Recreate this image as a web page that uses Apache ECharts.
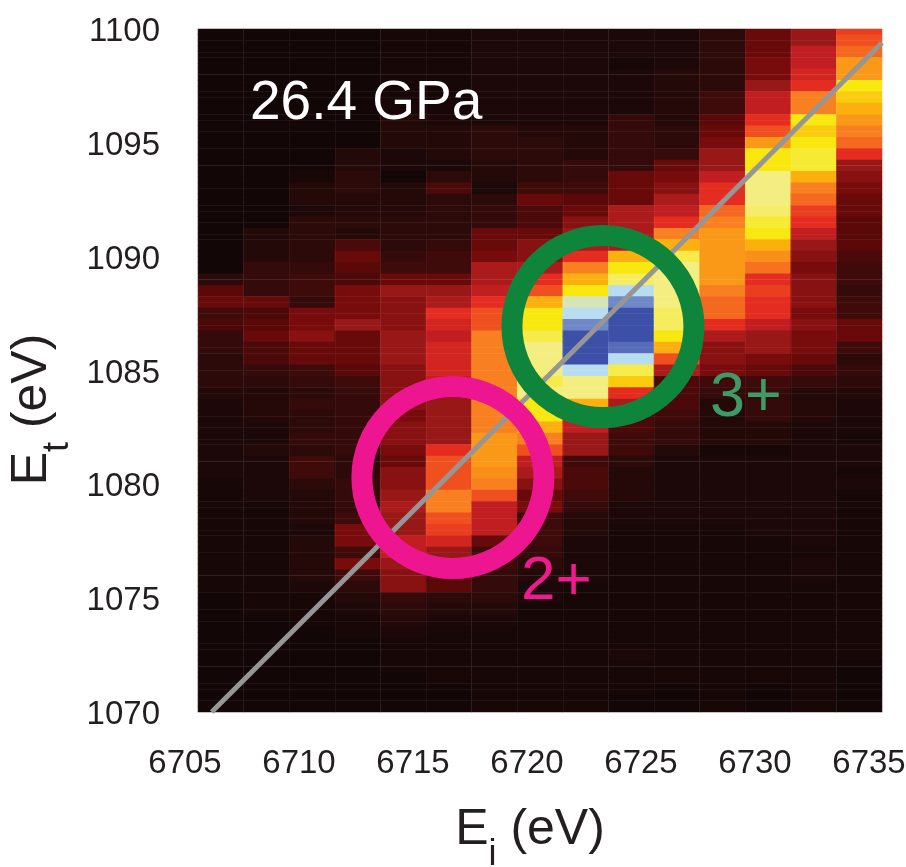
<!DOCTYPE html>
<html><head><meta charset="utf-8">
<style>html,body{margin:0;padding:0;background:#fff}#c{width:906px;height:867px}</style>
<script src="https://cdn.jsdelivr.net/npm/echarts@6/dist/echarts.min.js"></script>
</head><body><div id="c"></div>
<script>
// Incident energy bin centres (eV), 2 eV wide
const incidentEnergy = [6706,6708,6710,6712,6714,6716,6718,6720,6722,6724,6726,6728,6730,6732,6734];
// Intensity level per column, top row (1100 eV) to bottom row (1070 eV), 0.5 eV step
const c0=[0,0,0,0,0,0,0,0,0,0, 0,0,0,0,0,0,0,0,0,0, 0,0,2,4,4.5,3,3.5,2.5,2.5,2, 2,2,1.5,1,1,1,1,1,1,1, .5,.5,.5,.5,.5,.5,.5,.5,.5,.5, 0,0,0,0,0,0,0,0,0,0,0];
const c1=[0,0,0,0,0,0,0,0,0,0, 0,0,0,0,0,0,0,0,1.5,1.5, 1.5,2.5,2.5,2.5,4.5,3.5,4,4.5,3.5,3.5, 2.5,2,1.5,1.5,1.5,1,1,1.5,1,1, 1,1,.5,.5,.5,.5,.5,.5,.5,.5, .5,.5,0,0,0,0,0,0,0,0,0];
const c2=[0,0,0,0,0,0,0,0,0,0, 0,0,0,.5,1.5,1.5,1,2,2,2, 2,2.5,3,3,2.5,5,5,5.5,4.5,4.5, 3,2.5,2,2.5,2,2,2.5,2,3,3, 2,1.5,1.5,1.5,1,1.5,1.5,1.5,1.5,1, .5,.5,.5,0,0,0,0,0,0,0,0];
const c3=[0,0,0,0,0,0,0,0,0,0, 0,1.5,1.5,2,2,1.5,1.5,2,1.5,3.5, 4.5,4,3.5,5,5,5,6,4.5,4.5,4.5, 4,3,2.5,2.5,2.5,2.5,2.5,2.5,2,2, 2.5,2.5,2.5,3,5,5,3,5,3,2, 1.5,1,.5,.5,0,0,0,0,0,0,0];
const c4=[.5,.5,.5,.5,.5,.5,.5,.5,1.5,1.5, 1.5,1,1,0,1.5,1.5,1.5,2,2,2, 2.5,3,4.5,6,5.5,5.5,5.5,6,6,6, 5.5,5.5,5.5,5.5,5,5.5,5.5,5,4.5,5.5, 5.5,6,6.5,6,6,7,7,6,5.5,5.5, 2.5,2,1.5,1,.5,.5,.5,0,0,0,0];
const c5=[.5,.5,.5,.5,.5,.5,.5,.5,1,1.5, 1.5,1.5,1,2,3.5,2,2,2,2,2.5, 3,3,4.5,6,6.5,8,7.5,7,7.5,7.5, 7.5,7,6,6,6,6,6,8,9,9, 9,10,10,9,8.5,7.5,6,6,4,4, 2,1.5,1,.5,.5,.5,.5,.5,0,0,0];
const c6=[1,1,1,1,1,1,1,1,1,2, 2,2,1.5,1.5,1,2,2.5,2.5,4.5,4.5, 5,6.5,6.5,7,8,9,9,10,10,10, 10,10,10,10,10,10,10.5,10.5,10.5,10.3, 10,9,7,7,7,4.5,3,3,2.5,2.5, 2,1.5,1,.5,.5,.5,.5,.5,.5,.5,.5];
const c7=[1,1,1,1,1,1,1,1,1,1.5, 2,2,2,2,3,4.5,3.5,3.5,4.5,5.5, 5.5,6.5,8,9,11,12,12,12.5,13,13, 13,12.5,13,12,12,11,10,9,7,6.5, 5.5,4.5,5,3,3,3,2.5,2,1.5,1, 1,.5,.5,.5,.5,.5,.5,.5,.5,.5,.5];
const c8=[1,1,1,1,1,1,1,1,1,1.5, 1.5,1.5,2.5,2.5,3,4,4.5,5.5,6,6.5, 8,10,11,12,13.5,14,15,16,16,16, 14,13,13,11,7,7,6,6,3,3.5, 3.5,3,2.5,1.5,1.5,1,1,1,1,.5, .5,.5,.5,.5,.5,.5,.5,.5,.5,.5,.5];
const c9=[1,1,1,.5,1,1,1,1,2.5,2.5, 2.5,2.5,2.5,4.5,4.5,4.5,6.5,6.5,6.5,6.5, 11,12,12.7,14,15,16,16,16,15.5,14, 12.5,11.5,8,6.5,3.5,3.5,3,3,2,1.5, 1.5,1.5,1,1,.5,.5,.5,.5,.5,.5, .5,.5,.5,.5,.5,1,.5,.5,.5,0,0];
const c10=[1,1,1,1,1.5,1.5,1.5,1.5,1.5,2, 2,2.5,4.5,5,5.5,6.5,7,8,10,11, 12.5,13,13,13,13,12.7,12.7,12,11,9, 6.5,3.5,3.5,3.5,3,2.5,2.5,1.5,1,1, 1,1,1,1,.5,.5,.5,.5,.5,.5, .5,.5,.5,.5,.5,.5,.5,.5,0,0,0];
const c11=[2,2,2,2,2,2,3,3,4,4.5, 5,6,6,7,8,8,9.5,10,10.5,10.5, 10.5,10.5,10.5,10,9.5,9.5,8,6.5,5.5,5.5, 5,3,2.5,1.5,1.5,1.5,1.5,.5,1,1, 1,1,1,1,.5,.5,.5,.5,.5,.5, .5,.5,.5,.5,.5,.5,.5,.5,.5,.5,.5];
const c12=[4.5,4.5,4.5,5,5,6,7,7,8,9, 10.5,12,12,13,13,13,12.8,12.3,12,11, 10.3,9.7,8,8.5,8,8,7,6,6,5, 4.5,3,2.5,2.5,2.5,1.5,1.5,.5,1,1, 1,1,1,1,1,.5,.5,.5,.5,.5, .5,.5,.5,.5,.5,.5,.5,.5,0,0,0];
const c13=[6,6,7,7,7.5,8,10,10,12,11.5, 12,12.3,12.3,11,10,9.5,8.5,8,7,6, 5.5,5,5.5,5.5,5.5,5,5.5,5,5,4.5, 3.5,2.5,1.5,1.5,1.5,1,1,1,1,1, 1,1,1,1,1,1,.5,1,1,.5, .5,.5,.5,.5,.5,.5,.5,.5,.5,.5,.5];
const c14=[8.5,9,9.5,10.5,10.5,12,11.5,11,10.5,10, 9.5,8,6,5.5,5,4.5,4.5,4,4,4, 3.5,3,3,2.5,3,3,4.5,4.5,3,2, 2.5,2,1.5,1,1,1,.5,1,1,.5, 1,.5,.5,.5,.5,.5,.5,.5,.5,.5, .5,.5,.5,.5,.5,.5,0,0,0,0,0];
const columns=[c0,c1,c2,c3,c4,c5,c6,c7,c8,c9,c10,c11,c12,c13,c14];
const palette=['#120606','#1c0808','#2c0a0a','#3e0a0a','#5a0808','#780c0c','#981818','#c01e20','#e42c20','#f05020','#f88020','#fcb010','#f8e810','#f4ee80','#b8dcf0','#7088c8','#3c50a8'];
// Elastic line Et = Ei - 5635.6 and the two marked resonances
const diagonal=[[6705.6,1070],[6735,1099.4]];
const ring2=[[6716.18,1080.3]];
const ring3=[[6722.76,1086.93]];
const xTicks=[6705,6735,5], yTicks=[1070,1100,5];

// The picture's rows are centred on 0.5 eV steps, so the end rows are half height:
// each row is shown on two quarter-eV bands of the hidden category axis.
const bands=[]; for(let s=0;s<120;s++) bands.push(String(1070.125+0.25*s));
const cells=[];
columns.forEach((col,i)=>col.forEach((v,j)=>{
  [2*j-1,2*j].forEach(s=>{ if(s>=0&&s<120) cells.push([i,119-s,v]); });
}));

const SANS='"Liberation Sans",Arial,sans-serif';
const labelColor='#231f20';
const chart=echarts.init(document.getElementById('c'),null,{renderer:'canvas'});
const G={left:198,top:29,width:684,height:683};
const nameRich={e:{fontFamily:SANS,fontSize:50,color:labelColor},s:{fontFamily:SANS,fontSize:36,color:labelColor,padding:[50,0,0,0]}};
chart.setOption({
  backgroundColor:'#ffffff',animation:false,
  grid:{...G,show:false,containLabel:false,outerBoundsMode:'none'},
  visualMap:{show:false,min:0,max:16,seriesIndex:0,dimension:2,inRange:{color:palette}},
  xAxis:[
    {type:'category',data:incidentEnergy.map(String),z:3,axisLine:{show:false},axisTick:{show:false},axisLabel:{show:false},
     splitLine:{show:true,interval:0,lineStyle:{color:'rgba(255,255,255,0.05)',width:1}}},
    {type:'value',min:xTicks[0],max:xTicks[1],interval:xTicks[2],position:'bottom',z:3,
     axisLine:{show:false},axisTick:{show:false},splitLine:{show:false},
     axisLabel:{fontFamily:SANS,fontSize:33,color:labelColor,margin:35,padding:[0,26,0,0],formatter:v=>String(v),showMinLabel:true,showMaxLabel:true,hideOverlap:false},
     name:'{e|E}{s|i}{e| (eV)}',nameLocation:'middle',nameGap:75,
     nameTextStyle:{padding:[0,20,0,0],rich:nameRich}}
  ],
  yAxis:[
    {type:'category',data:bands,show:false},
    {type:'value',min:yTicks[0],max:yTicks[1],interval:yTicks[2],position:'left',z:3,
     axisLine:{show:false},axisTick:{show:false},splitLine:{show:false},
     minorTick:{show:false,splitNumber:5},minorSplitLine:{show:true,lineStyle:{color:'rgba(255,255,255,0.05)',width:1}},
     axisLabel:{fontFamily:SANS,fontSize:33,color:labelColor,margin:38,verticalAlign:'top',lineHeight:6,formatter:v=>String(v),showMinLabel:true,showMaxLabel:true,hideOverlap:false},
     name:'{e|E}{s|t}{e| (eV)}',nameLocation:'middle',nameGap:119,
     nameTextStyle:{padding:[0,78,0,0],rich:nameRich}}
  ],
  series:[
    {type:'heatmap',xAxisIndex:0,yAxisIndex:0,data:cells,z:1,silent:true,itemStyle:{borderWidth:0},progressive:0},
    {type:'line',xAxisIndex:1,yAxisIndex:1,data:diagonal,showSymbol:false,z:4,lineStyle:{color:'#969696',width:5},silent:true},
    {type:'scatter',xAxisIndex:1,yAxisIndex:1,data:ring3,symbol:'circle',symbolSize:182,z:5,silent:true,
     itemStyle:{color:'rgba(0,0,0,0)',borderColor:'#0f853c',borderWidth:21,opacity:1}},
    {type:'scatter',xAxisIndex:1,yAxisIndex:1,data:ring2,symbol:'circle',symbolSize:182,z:6,silent:true,
     itemStyle:{color:'rgba(0,0,0,0)',borderColor:'#ee1690',borderWidth:21,opacity:1}}
  ],
  graphic:[
    {type:'text',left:250,top:76,z:10,style:{text:'26.4 GPa',fill:'#ffffff',font:'55px '+SANS}},
    {type:'text',left:710,top:367,z:10,style:{text:'3+',fill:'#3f9a68',font:'63px '+SANS}},
    {type:'text',left:521,top:551,z:10,style:{text:'2+',fill:'#ee1a90',font:'62px '+SANS}}
  ]
});
</script></body></html>
